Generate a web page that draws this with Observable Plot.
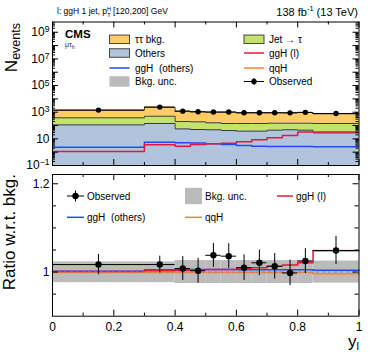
<!DOCTYPE html>
<html>
<head>
<meta charset="utf-8">
<script src="https://cdn.jsdelivr.net/npm/d3@7"></script>
<script src="https://cdn.jsdelivr.net/npm/@observablehq/plot@0.6"></script>
<style>
  html, body { margin: 0; padding: 0; background: white; }
  #chart { width: 374px; height: 359px; position: relative; }
  #chart svg { display: block; }
</style>
</head>
<body>
<div id="chart"></div>
<script>
// ---------- data ----------
const binEdges = [0, 0.3, 0.4, 0.45, 0.5, 0.55, 0.6, 0.65, 0.7, 0.75, 0.8, 0.85, 1.0];

// upper panel yields per bin
const others    = [112, 142, 56, 50, 48, 42, 38, 38, 45, 48, 45, 28];
const jetFakes  = [268, 358, 144, 140, 112, 100, 104, 104, 105, 102, 105, 114];
const tautauBkg = [1030, 1870, 990, 880, 840, 858, 758, 758, 750, 750, 800, 618];
const ggHl      = [1.12, 3.55, 2.8, 3.8, 4.2, 4.7, 6.0, 8.5, 12, 18, 32, 32];
const ggHothers = [2.37, 5.6, 5.0, 4.8, 4.2, 3.8, 3.2, 2.8, 2.7, 2.7, 2.7, 2.5];
const observed    = [1434, 2410, 1200, 1072, 1038, 1036, 909, 919, 912, 898, 974, 797];
const observedErr = [38, 49, 35, 33, 32, 32, 30, 30, 30, 30, 31, 28];

// lower (ratio) panel
const ratioObs      = [1.017, 1.017, 1.008, 1.003, 1.038, 1.036, 1.010, 1.021, 1.013, 0.998, 1.025, 1.049];
const ratioObsErr   = [0.023, 0.019, 0.027, 0.028, 0.027, 0.028, 0.029, 0.029, 0.029, 0.029, 0.028, 0.032];
const ratioBandUp   = [0.023, 0.023, 0.026, 0.026, 0.026, 0.026, 0.026, 0.026, 0.026, 0.026, 0.026, 0.025];
const ratioBandDown = [0.024, 0.024, 0.026, 0.026, 0.026, 0.026, 0.026, 0.026, 0.026, 0.026, 0.026, 0.025];
const ratioGgHl      = [1.001, 1.003, 1.004, 1.005, 1.006, 1.006, 1.008, 1.010, 1.013, 1.016, 1.021, 1.048];
const ratioGgHothers = [1.002, 1.005, 1.006, 1.006, 1.006, 1.006, 1.005, 1.005, 1.005, 1.005, 1.005, 1.004];
const ratioQqH       = [0.999, 0.999, 0.999, 0.999, 0.999, 0.999, 0.999, 0.999, 0.999, 0.999, 0.999, 0.996];

// ticks and labels
const xMajorTicks = [0, 0.2, 0.4, 0.6, 0.8, 1.0];
const xMinorTicks = [0.1, 0.3, 0.5, 0.7, 0.9];
const xTickLabels = ["0", "0.2", "0.4", "0.6", "0.8", "1"];
const yUpperMajor = [1e-1, 1e0, 1e1, 1e2, 1e3, 1e4, 1e5, 1e6, 1e7, 1e8, 1e9];
const yUpperLabelTicks = [1e-1, 1e1, 1e3, 1e5, 1e7, 1e9];
const yUpperLabels = ["10^-1", "10", "10^3", "10^5", "10^7", "10^9"];
const yUpperMinor = yUpperMajor.flatMap(d => [2,3,4,5,6,7,8,9].map(k => k * d)).filter(v => v < 10 ** 9.77);
const yRatioMajor = [1.0, 1.2];
const yRatioLabels = ["1", "1.2"];
const yRatioMinor = [0.95, 1.05, 1.1, 1.15];

// colours
const cTT = "#ffcc66", cJet = "#c4e36c", cOth = "#b0c4de", cUnc = "#bbbbbb";
const cGgHl = "#e8173a", cGgHo = "#1f4cf5", cQqH = "#ff8030";
const FONT = "Liberation Sans, Arial, Helvetica, sans-serif";

// ---------- derived tables ----------
const nb = observed.length;
const bins = d3.range(nb).map(i => ({x1: binEdges[i], x2: binEdges[i+1], xc: (binEdges[i] + binEdges[i+1]) / 2, i}));
const yMin = 0.1, yMax = 10 ** 9.77;
const topOth = others;
const topJet = others.map((o, i) => o + jetFakes[i]);
const topTT = topJet.map((v, i) => v + tautauBkg[i]);
const stackPts = binEdges.map((x, i) => {
  const k = Math.min(i, nb - 1);
  return {x, base: yMin, oth: topOth[k], jet: topJet[k], tt: topTT[k]};
});
const step = vals => binEdges.map((x, i) => ({x, y: vals[Math.min(i, vals.length - 1)]}));

const W = 374, ML = 52, MR = 15.5;
const fw = W - ML - MR;
const H1 = 170, MT1 = 21.5, MB1 = 5, fh1 = H1 - MT1 - MB1;
const H2 = 189, MT2 = 4, MB2 = 43.3, fh2 = H2 - MT2 - MB2;

function frameTicks(fh, yMaj, yMin_, majLen, minLen) {
  return [
    Plot.tickX(xMajorTicks, {x: d => d, insetTop: fh - 6, stroke: "black"}),
    Plot.tickX(xMajorTicks, {x: d => d, insetBottom: fh - 6, stroke: "black"}),
    Plot.tickX(xMinorTicks, {x: d => d, insetTop: fh - 3, stroke: "black"}),
    Plot.tickX(xMinorTicks, {x: d => d, insetBottom: fh - 3, stroke: "black"}),
    Plot.tickY(yMaj, {y: d => d, insetRight: fw - majLen, stroke: "black"}),
    Plot.tickY(yMaj, {y: d => d, insetLeft: fw - majLen, stroke: "black"}),
    Plot.tickY(yMin_, {y: d => d, insetRight: fw - minLen, stroke: "black"}),
    Plot.tickY(yMin_, {y: d => d, insetLeft: fw - minLen, stroke: "black"})
  ];
}

const upper = Plot.plot({
  width: W, height: H1,
  marginLeft: ML, marginRight: MR, marginTop: MT1, marginBottom: MB1,
  style: {fontFamily: FONT, fontSize: "12px", background: "white", overflow: "visible"},
  x: {domain: [0, 1], axis: null},
  y: {type: "log", domain: [yMin, yMax], label: null},
  marks: [
    Plot.areaY(stackPts, {x: "x", y1: "base", y2: "oth", curve: "step-after", fill: cOth}),
    Plot.areaY(stackPts, {x: "x", y1: "oth", y2: "jet", curve: "step-after", fill: cJet}),
    Plot.areaY(stackPts, {x: "x", y1: "jet", y2: "tt", curve: "step-after", fill: cTT}),
    Plot.line(step(topOth), {x: "x", y: "y", curve: "step-after", stroke: "#3a3a3a", strokeWidth: 1}),
    Plot.line(step(topJet), {x: "x", y: "y", curve: "step-after", stroke: "#3a3a3a", strokeWidth: 1}),
    Plot.line(step(topTT), {x: "x", y: "y", curve: "step-after", stroke: "#3a3a3a", strokeWidth: 1}),
    Plot.line(step(ggHothers), {x: "x", y: "y", curve: "step-after", stroke: cGgHo, strokeWidth: 1.5, clip: true}),
    Plot.line(step(ggHl), {x: "x", y: "y", curve: "step-after", stroke: cGgHl, strokeWidth: 1.5, clip: true}),
    Plot.ruleY(bins, {x1: "x1", x2: "x2", y: b => observed[b.i], stroke: "black", strokeWidth: 1}),
    Plot.ruleX(bins, {x: "xc", y1: b => observed[b.i] - observedErr[b.i], y2: b => observed[b.i] + observedErr[b.i], stroke: "black"}),
    Plot.dot(bins, {x: "xc", y: b => observed[b.i], r: 2.7, fill: "black", stroke: "none"}),
    ...frameTicks(fh1, yUpperMajor, yUpperMinor, 6, 3),
    Plot.frame({stroke: "black", strokeWidth: 1}),
    Plot.axisY({ticks: yUpperLabelTicks, tickSize: 0, tickPadding: 3, label: null,
      tickFormat: d => yUpperLabels[yUpperLabelTicks.findIndex(t => Math.abs(Math.log10(t) - Math.log10(d)) < 1e-6)]})
  ]
});

const lower = Plot.plot({
  width: W, height: H2,
  marginLeft: ML, marginRight: MR, marginTop: MT2, marginBottom: MB2,
  style: {fontFamily: FONT, fontSize: "12px", background: "white", overflow: "visible"},
  x: {domain: [0, 1], label: null},
  y: {domain: [0.9, 1.221], label: null},
  marks: [
    Plot.rect(bins, {x1: "x1", x2: "x2", y1: b => 1 - ratioBandDown[b.i], y2: b => 1 + ratioBandUp[b.i], fill: cUnc}),
    Plot.line(step(ratioQqH), {x: "x", y: "y", curve: "step-after", stroke: cQqH, strokeWidth: 1.5}),
    Plot.line(step(ratioGgHothers), {x: "x", y: "y", curve: "step-after", stroke: cGgHo, strokeWidth: 1.5}),
    Plot.line(step(ratioGgHl), {x: "x", y: "y", curve: "step-after", stroke: cGgHl, strokeWidth: 1.5}),
    Plot.ruleY([1], {stroke: "#8a8a8a", strokeDasharray: "3,3", strokeWidth: 1}),
    Plot.ruleY(bins, {x1: "x1", x2: "x2", y: b => ratioObs[b.i], stroke: "black", strokeWidth: 1}),
    Plot.ruleX(bins, {x: "xc", y1: b => ratioObs[b.i] - ratioObsErr[b.i], y2: b => ratioObs[b.i] + ratioObsErr[b.i], stroke: "black", strokeWidth: 1}),
    Plot.dot(bins, {x: "xc", y: b => ratioObs[b.i], r: 3.2, fill: "black", stroke: "none"}),
    ...frameTicks(fh2, yRatioMajor, yRatioMinor, 6, 4),
    Plot.frame({stroke: "black", strokeWidth: 1}),
    Plot.axisX({ticks: xMajorTicks, tickSize: 0, tickPadding: 6, label: null,
      tickFormat: d => xTickLabels[xMajorTicks.findIndex(t => Math.abs(t - d) < 1e-9)]}),
    Plot.axisY({ticks: yRatioMajor, tickSize: 0, tickPadding: 3, label: null,
      tickFormat: d => yRatioLabels[yRatioMajor.findIndex(t => Math.abs(t - d) < 1e-9)]})
  ]
});

const chart = document.getElementById("chart");
chart.appendChild(upper);
chart.appendChild(lower);

// superscripts on log labels
d3.select(upper).selectAll("text").each(function() {
  const s = this.textContent;
  const m = /^10\^(-?\d+)$/.exec(s);
  if (m) {
    this.textContent = "10";
    d3.select(this).append("tspan").attr("dy", "-0.45em").attr("font-size", "0.72em").text(m[1].replace("-", "\u2212"));
  }
});

// ---------- annotations: upper ----------
const su = d3.select(upper);
function txt(svg, x, y, size, anchor) {
  return svg.append("text").attr("x", x).attr("y", y).attr("font-size", size)
    .attr("text-anchor", anchor || "start").attr("fill", "black");
}
{
  const t = txt(su, 57, 14, 8.5);
  t.append("tspan").text("l: ggH 1 jet, p");
  t.append("tspan").attr("dy", -3.5).attr("font-size", 5.5).text("H");
  t.append("tspan").attr("dx", -3.8).attr("dy", 6).attr("font-size", 5.5).text("T");
  t.append("tspan").attr("dy", -2.5).text(" [120,200] GeV");
}
{
  const t = txt(su, 358, 15.5, 11, "end");
  t.append("tspan").text("138 fb");
  t.append("tspan").attr("dy", -4.5).attr("font-size", 7.5).text("-1");
  t.append("tspan").attr("dy", 4.5).text(" (13 TeV)");
}
txt(su, 65, 38, 11.5).attr("font-weight", "bold").text("CMS");
{
  const t = txt(su, 65, 46.5, 7).attr("fill", "#333");
  t.append("tspan").text("\u03bc\u03c4");
  t.append("tspan").attr("dy", 2).attr("font-size", 5.5).text("h");
}
{
  const t = su.append("text").attr("transform", "translate(17,23) rotate(-90)").attr("text-anchor", "end").attr("fill", "black");
  t.append("tspan").attr("font-size", 17).text("N");
  t.append("tspan").attr("font-size", 12.5).attr("dy", 3).text("events");
}
function boxSwatch(svg, x, y, fill, stroke, h) {
  svg.append("rect").attr("x", x).attr("y", y - h / 2).attr("width", 20).attr("height", h)
    .attr("fill", fill).attr("stroke", stroke || "none").attr("stroke-width", 1);
}
function lineSwatch(svg, x, y, color, w) {
  svg.append("line").attr("x1", x).attr("x2", x + (w || 20)).attr("y1", y).attr("y2", y)
    .attr("stroke", color).attr("stroke-width", 1.5);
}
function obsSwatch(svg, x, y, w, r, bar) {
  svg.append("line").attr("x1", x).attr("x2", x + w).attr("y1", y).attr("y2", y).attr("stroke", "black");
  svg.append("line").attr("x1", x + w / 2).attr("x2", x + w / 2).attr("y1", y - bar).attr("y2", y + bar).attr("stroke", "black");
  svg.append("circle").attr("cx", x + w / 2).attr("cy", y).attr("r", r).attr("fill", "black");
}
function label(svg, x, y, s) {
  txt(svg, x, y, 10).attr("dy", "0.35em").text(s);
}
const r1 = 39.3, r2 = 53, r3 = 68, r4 = 81.5;
boxSwatch(su, 109.5, r1, cTT, "#444", 8.5); label(su, 135, r1, "\u03c4\u03c4 bkg.");
boxSwatch(su, 109.5, r2, cOth, "#444", 8.5); label(su, 135, r2, "Others");
lineSwatch(su, 109.5, r3, cGgHo); label(su, 135, r3, "ggH  (others)");
boxSwatch(su, 109.5, r4, cUnc, null, 10.5); label(su, 135, r4, "Bkg. unc.");
boxSwatch(su, 244, r1, cJet, "#444", 8.5); label(su, 269, r1, "Jet \u2192 \u03c4");
lineSwatch(su, 244, r2, cGgHl); label(su, 269, r2, "ggH (l)");
lineSwatch(su, 244, r3, cQqH); label(su, 269, r3, "qqH");
obsSwatch(su, 244, r4, 20, 2.7, 3.5); label(su, 269, r4, "Observed");

// ---------- annotations: lower ----------
const sl = d3.select(lower);
sl.append("text").attr("transform", "translate(15,4) rotate(-90)").attr("text-anchor", "end")
  .attr("font-size", 17).attr("fill", "black").text("Ratio w.r.t. bkg.");
{
  const t = txt(sl, 359, 177, 17, "end");
  t.append("tspan").text("y");
  t.append("tspan").attr("font-size", 11).attr("dy", 3).text("l");
}
const q1 = 26, q2 = 47.3;
obsSwatch(sl, 67, q1, 17, 3.2, 5.5); label(sl, 87, q1, "Observed");
sl.append("rect").attr("x", 185).attr("y", q1 - 8.2).attr("width", 17).attr("height", 16.4).attr("fill", cUnc);
label(sl, 205, q1, "Bkg. unc.");
lineSwatch(sl, 277, q1, cGgHl, 16); label(sl, 296, q1, "ggH (l)");
lineSwatch(sl, 67, q2, cGgHo, 17); label(sl, 87, q2, "ggH  (others)");
lineSwatch(sl, 185, q2, cQqH, 17); label(sl, 205, q2, "qqH");
</script>
</body>
</html>
